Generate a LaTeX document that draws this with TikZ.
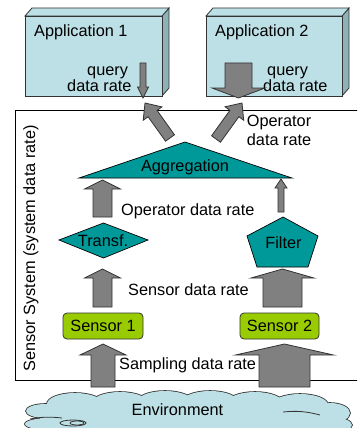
\documentclass[tikz,border=0pt]{standalone}
\usepackage{fontspec}
\setmainfont{Liberation Sans}
\usetikzlibrary{calc}

\definecolor{appfill}{HTML}{BDE0E6}
\definecolor{appside}{HTML}{8DB1B6}
\definecolor{opteal}{HTML}{009999}
\definecolor{sensgreen}{HTML}{99CC00}
\definecolor{arrgrey}{HTML}{808080}
\definecolor{edgegrey}{HTML}{333333}

\tikzset{
  lbl/.style={font=\fontsize{16.3}{18}\selectfont, inner sep=0pt, text=black},
  fatarrow/.style={fill=arrgrey, draw=edgegrey, line width=0.8pt, line join=miter},
  opshape/.style={fill=opteal, draw=black, line width=0.7pt, line join=miter},
  appfront/.style={fill=appfill, draw=edgegrey, line width=0.8pt},
  appdepth/.style={fill=appside, draw=edgegrey, line width=0.8pt},
  sensorbox/.style={lbl, fill=sensgreen, draw=edgegrey, line width=0.8pt,
    rounded corners=4pt, minimum height=26pt, inner sep=0pt},
  frame/.style={draw=black, line width=0.8pt},
  cloudedge/.style={draw=edgegrey, line width=1.6pt},
  cloudfill/.style={fill=appfill},
}

% block arrow from tail #1 to tip #2:
% #3 half shaft width, #4 half head width, #5 head length
\newcommand\blockarrow[5]{%
  \path ($(#2)!#5!(#1)$) coordinate (ba-h);
  \filldraw[fatarrow]
    ($(#1)!#3!90:(#2)$) -- ($(ba-h)!#3!90:(#2)$) -- ($(ba-h)!#4!90:(#2)$)
    -- (#2)
    -- ($(ba-h)!#4!-90:(#2)$) -- ($(ba-h)!#3!-90:(#2)$) -- ($(#1)!#3!-90:(#2)$)
    -- cycle;
}

% one application box drawn as a 3D slab
\newcommand\appslab[4]{% #1 left, #2 top, #3 right, #4 bottom
  \filldraw[appdepth] (#3,#2) -- (#3+7,#2-8) -- (#3+7,#4-8) -- (#3,#4) -- cycle;
  \filldraw[appfront] (#1,#2) -- (#1+7,#2-8) -- (#3+7,#2-8) -- (#3,#2) -- cycle;
  \filldraw[appfront] (#1,#2) rectangle (#3,#4);
}

\begin{document}
\begin{tikzpicture}[x=1pt,y=-1pt]
\useasboundingbox (0,0) rectangle (357,428);
\begin{scope}
\clip (0,0) rectangle (357,428);

% sensor system frame (runs past the right edge)
\draw[frame] (375,110) -- (15,110) -- (15,380) -- (375,380);
\node[lbl, rotate=90, anchor=base] (sys) at (35,248.5) {Sensor System (system data rate)};

% applications
\appslab{25}{16}{162}{96}
\appslab{206}{16}{342}{96}
\node[lbl, anchor=base west] (app1) at (34,36.5) {Application 1};
\node[lbl, anchor=base west] (app2) at (215,36.5) {Application 2};
\node[lbl, anchor=base west] (q1a) at (87,75) {query};
\node[lbl, anchor=base west] (q1b) at (67,91.5) {data rate};
\node[lbl, anchor=base west] (q2a) at (267,75) {query};
\node[lbl, anchor=base west] (q2b) at (263,91.5) {data rate};

% environment cloud: outline first, then fill on top
\foreach \cx/\cy/\rx/\ry in {188/422/150/20, 45/411/19/7, 75/404/28/11, 120/403/28/11,
    165/402/28/11, 210/402/28/11, 255/403/28/11, 300/405/28/11, 330/413/20/10,
    50/424/25/6, 330/425/22/8}
  \draw[cloudedge] (\cx,\cy) ellipse [x radius=\rx, y radius=\ry];
\foreach \cx/\cy/\rx/\ry in {188/422/150/20, 45/411/19/7, 75/404/28/11, 120/403/28/11,
    165/402/28/11, 210/402/28/11, 255/403/28/11, 300/405/28/11, 330/413/20/10,
    50/424/25/6, 330/425/22/8}
  \fill[cloudfill] (\cx,\cy) ellipse [x radius=\rx, y radius=\ry];
\draw[draw=edgegrey, line width=0.8pt] (73,423) ellipse [x radius=13, y radius=3];
\draw[draw=edgegrey, line width=0.8pt] (77,423) ellipse [x radius=7, y radius=2];
\draw[draw=edgegrey, line width=0.8pt] (30,419) to[bend left=8] (62,418);
\draw[draw=edgegrey, line width=0.8pt] (283,412) to[bend left=10] (320,415);
\node[lbl, anchor=base] (env) at (177.5,415.7) {Environment};

% operators
\filldraw[opshape] (79,178) -- (185,142) -- (292,178) -- cycle;
\node[lbl, anchor=base] (agg) at (185,171.7) {Aggregation};
\filldraw[opshape] (59,240) -- (103.5,223) -- (148,240) -- (103.5,258) -- cycle;
\node[lbl, anchor=base] (tr) at (103,246.7) {Transf.};
\filldraw[opshape] (283,217) -- (318,236) -- (308,267) -- (257,267) -- (247,236) -- cycle;
\node[lbl, anchor=base] (fi) at (283.5,248) {Filter};

% sensors
\node[sensorbox, minimum width=80pt] (s1) at (103,326) {Sensor 1};
\node[sensorbox, minimum width=79pt] (s2) at (279.5,326) {Sensor 2};

% rate labels
\node[lbl, anchor=base west] (opr1) at (246.7,126.7) {Operator};
\node[lbl, anchor=base west] (opr2) at (246.7,145) {data rate};
\node[lbl, anchor=base west] (oprate) at (121,215) {Operator data rate};
\node[lbl, anchor=base west] (snrate) at (128,295) {Sensor data rate};
\node[lbl, anchor=base west] (smrate) at (119,369) {Sampling data rate};

% arrow end points
\coordinate (q1t) at (143,63);   \coordinate (q1h) at (143,98);
\coordinate (q2t) at (238.5,63); \coordinate (q2h) at (238.5,98);
\coordinate (dlt) at (170,138);  \coordinate (dlh) at (145,103);
\coordinate (drt) at (216,139);  \coordinate (drh) at (242,103);
\coordinate (tat) at (102.5,217);\coordinate (tah) at (102.5,180);
\coordinate (fat) at (281,212);  \coordinate (fah) at (281,179);
\coordinate (stt) at (102.5,307);\coordinate (sth) at (102.5,269);
\coordinate (sft) at (282.5,307);\coordinate (sfh) at (282.5,269);
\coordinate (e1t) at (103,387);  \coordinate (e1h) at (103,344);
\coordinate (e2t) at (284.5,387);\coordinate (e2h) at (284.5,344);

\blockarrow{q1t}{q1h}{3pt}{5.5pt}{11pt}
\blockarrow{q2t}{q2h}{13.5pt}{26.5pt}{10pt}
\blockarrow{dlt}{dlh}{5.5pt}{11.5pt}{13pt}
\blockarrow{drt}{drh}{5.5pt}{11.5pt}{13pt}
\blockarrow{tat}{tah}{9.5pt}{18pt}{9pt}
\blockarrow{fat}{fah}{3pt}{6pt}{9pt}
\blockarrow{stt}{sth}{9.5pt}{18pt}{9pt}
\blockarrow{sft}{sfh}{19.5pt}{31.5pt}{9pt}
\blockarrow{e1t}{e1h}{12pt}{23pt}{11pt}
\blockarrow{e2t}{e2h}{25.5pt}{49pt}{11pt}

\end{scope}
\end{tikzpicture}
\end{document}
